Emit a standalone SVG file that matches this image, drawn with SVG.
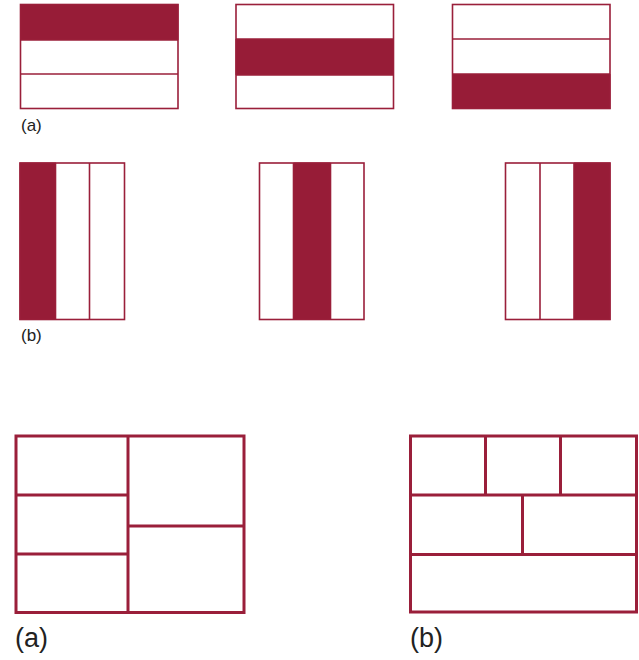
<svg xmlns="http://www.w3.org/2000/svg" width="639" height="660" viewBox="0 0 639 660">
<style>
.thin{fill:none;stroke:#9a1f3a;stroke-width:1.6}
.thick{fill:none;stroke:#9a1f3a;stroke-width:3}
.fill{fill:#971c37;stroke:none}
.lbl{font-family:"Liberation Sans",Arial,sans-serif;fill:#222;font-weight:normal}
</style>
<rect width="639" height="660" fill="#fff"/>
<g id="a1">
<rect class="fill" x="20" y="4" width="158.5" height="36"/>
<rect class="thin" x="20.5" y="4.5" width="157.5" height="104"/>
<line class="thin" x1="20.5" y1="40" x2="178" y2="40"/>
<line class="thin" x1="20.5" y1="74" x2="178" y2="74"/>
</g>
<g id="a2">
<rect class="fill" x="235.5" y="39" width="158.5" height="36"/>
<rect class="thin" x="236" y="4.5" width="157.5" height="104"/>
<line class="thin" x1="236" y1="39" x2="393.5" y2="39"/>
<line class="thin" x1="236" y1="75" x2="393.5" y2="75"/>
</g>
<g id="a3">
<rect class="fill" x="452" y="74" width="158.5" height="35"/>
<rect class="thin" x="452.5" y="4.5" width="157.5" height="104"/>
<line class="thin" x1="452.5" y1="39" x2="610" y2="39"/>
<line class="thin" x1="452.5" y1="74" x2="610" y2="74"/>
</g>
<text class="lbl" x="21" y="131" font-size="17">(a)</text>
<g id="b1">
<rect class="fill" x="19.5" y="162.5" width="36.5" height="157.5"/>
<rect class="thin" x="20" y="163" width="104.5" height="156.5"/>
<line class="thin" x1="55.5" y1="163" x2="55.5" y2="319.5"/>
<line class="thin" x1="89.5" y1="163" x2="89.5" y2="319.5"/>
</g>
<g id="b2">
<rect class="fill" x="293.5" y="162.5" width="37" height="157.5"/>
<rect class="thin" x="259.5" y="163" width="104.5" height="156.5"/>
<line class="thin" x1="293.5" y1="163" x2="293.5" y2="319.5"/>
<line class="thin" x1="330.5" y1="163" x2="330.5" y2="319.5"/>
</g>
<g id="b3">
<rect class="fill" x="574" y="162.5" width="36.5" height="157.5"/>
<rect class="thin" x="505.5" y="163" width="104.5" height="156.5"/>
<line class="thin" x1="540" y1="163" x2="540" y2="319.5"/>
<line class="thin" x1="574" y1="163" x2="574" y2="319.5"/>
</g>
<text class="lbl" x="21" y="341" font-size="17">(b)</text>
<g id="layoutA">
<rect class="thick" x="16" y="436" width="228" height="176.5"/>
<line class="thick" x1="128" y1="436" x2="128" y2="612.5"/>
<line class="thick" x1="16" y1="495" x2="128" y2="495"/>
<line class="thick" x1="16" y1="554" x2="128" y2="554"/>
<line class="thick" x1="128" y1="526" x2="244" y2="526"/>
</g>
<text class="lbl" x="15" y="647" font-size="27">(a)</text>
<g id="layoutB">
<rect class="thick" x="410.5" y="436" width="226" height="176"/>
<line class="thick" x1="410.5" y1="495" x2="636.5" y2="495"/>
<line class="thick" x1="410.5" y1="554.5" x2="636.5" y2="554.5"/>
<line class="thick" x1="485.5" y1="436" x2="485.5" y2="495"/>
<line class="thick" x1="560.5" y1="436" x2="560.5" y2="495"/>
<line class="thick" x1="522.5" y1="495" x2="522.5" y2="554.5"/>
</g>
<text class="lbl" x="410" y="647" font-size="27">(b)</text>
</svg>
